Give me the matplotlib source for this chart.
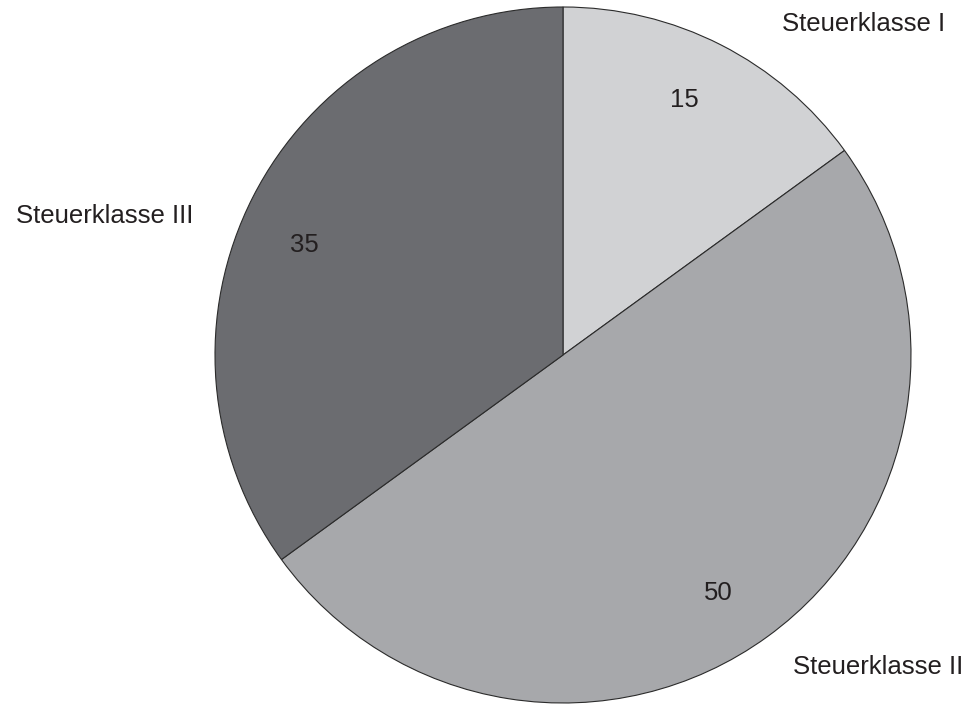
import matplotlib
matplotlib.use('Agg')
import matplotlib.pyplot as plt

# Daten
categories = ['Steuerklasse I', 'Steuerklasse II', 'Steuerklasse III']
values = [15, 50, 35]
colors = ['#d1d2d4', '#a7a8ab', '#6b6c70']

# Position der Beschriftungen (in Radius-Einheiten)
label_pos = [(0.865, 0.950), (0.905, -0.897), (-1.316, 0.40)]
value_pos = [(0.348, 0.732), (0.445, -0.684), (-0.744, 0.316)]

plt.rcParams['font.family'] = ['Liberation Sans', 'DejaVu Sans']
text_color = '#231f20'

fig = plt.figure(figsize=(9.74, 7.04), dpi=100)
ax = fig.add_axes([0, 0, 1, 1])

wedges, texts, autotexts = ax.pie(
    values, labels=categories, colors=colors, startangle=90, counterclock=False,
    autopct=lambda p: f'{p:.0f}', pctdistance=0.81, radius=1.0,
    wedgeprops=dict(edgecolor='#2b2b2b', linewidth=0.8),
    textprops=dict(fontsize=18.5, color=text_color))

for t, (x, y) in zip(texts, label_pos):
    t.set_position((x, y))
    t.set_ha('center')
    t.set_va('center')

for t, (x, y) in zip(autotexts, value_pos):
    t.set_position((x, y))
    t.set_ha('center')
    t.set_va('center')
    t.set_fontsize(18.5)
    t.set_color(text_color)

ax.set_aspect('auto')
ax.set_xlim(-563 / 348, (974 - 563) / 348)
ax.set_ylim(-(704 - 355) / 348, 355 / 348)
ax.axis('off')

fig.savefig('out.png', dpi=100, facecolor='white')
